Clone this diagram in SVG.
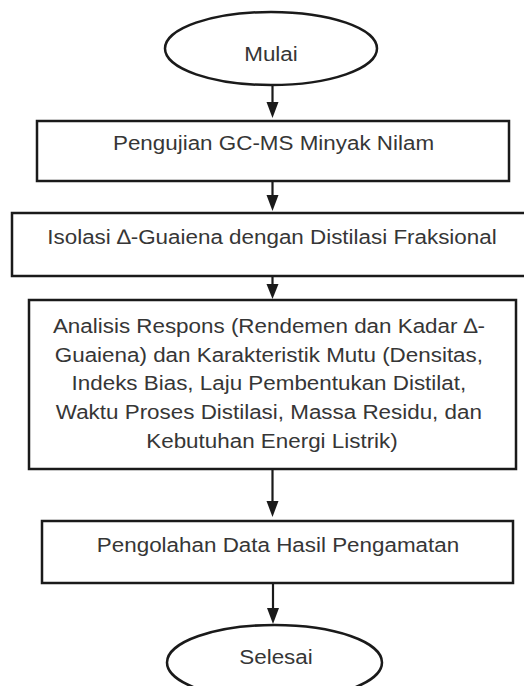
<svg xmlns="http://www.w3.org/2000/svg" width="524" height="686" viewBox="0 0 524 686">
<style>
  .shape { fill: #ffffff; stroke: #1a1a1a; stroke-width: 2.5; }
  .t { font-family: "Liberation Sans", Arial, sans-serif; font-size: 21px; fill: #363636; text-anchor: middle; }
  .conn { stroke: #1a1a1a; stroke-width: 2.2; fill: none; }
  .head { fill: #1a1a1a; }
</style>
<rect width="524" height="686" fill="#ffffff"/>
<g id="connectors">
  <line class="conn" x1="272.5" y1="86" x2="272.5" y2="103"/>
  <polygon class="head" points="266.5,102 278.5,102 272.5,118"/>
  <line class="conn" x1="272.5" y1="182" x2="272.5" y2="196"/>
  <polygon class="head" points="266.5,195 278.5,195 272.5,211"/>
  <line class="conn" x1="272.5" y1="277" x2="272.5" y2="285"/>
  <polygon class="head" points="266.5,284 278.5,284 272.5,299"/>
  <line class="conn" x1="272.5" y1="470" x2="272.5" y2="502"/>
  <polygon class="head" points="266.5,501 278.5,501 272.5,517"/>
  <line class="conn" x1="273" y1="584" x2="273" y2="609"/>
  <polygon class="head" points="267,608 279,608 273,624"/>
</g>
<g id="node-mulai">
  <ellipse class="shape" cx="271" cy="48.5" rx="106" ry="36.5"/>
  <text class="t" transform="translate(271 61) scale(1.067 1)">Mulai</text>
</g>
<g id="node-pengujian">
  <rect class="shape" x="37" y="121" width="472" height="60"/>
  <text class="t" transform="translate(273.5 150) scale(1.067 1)">Pengujian GC-MS Minyak Nilam</text>
</g>
<g id="node-isolasi">
  <rect class="shape" x="12" y="213" width="514" height="63"/>
  <text class="t" transform="translate(272 244) scale(1.067 1)">Isolasi ∆-Guaiena dengan Distilasi Fraksional</text>
</g>
<g id="node-analisis">
  <rect class="shape" x="29" y="300" width="487" height="169"/>
  <text class="t" transform="translate(272 333) scale(1.067 1)">
    <tspan x="0" y="0">Analisis Respons (Rendemen dan Kadar ∆-</tspan>
    <tspan x="0" y="28.75">Guaiena) dan Karakteristik Mutu (Densitas,</tspan>
    <tspan x="0" y="57.5">Indeks Bias, Laju Pembentukan Distilat,</tspan>
    <tspan x="0" y="86.25">Waktu Proses Distilasi, Massa Residu, dan</tspan>
    <tspan x="0" y="115">Kebutuhan Energi Listrik)</tspan>
  </text>
</g>
<g id="node-pengolahan">
  <rect class="shape" x="42" y="521" width="471" height="62"/>
  <text class="t" transform="translate(278 552) scale(1.067 1)">Pengolahan Data Hasil Pengamatan</text>
</g>
<g id="node-selesai">
  <ellipse class="shape" cx="274.5" cy="662.5" rx="107.5" ry="37.5"/>
  <text class="t" transform="translate(276 664) scale(1.067 1)">Selesai</text>
</g>
</svg>
